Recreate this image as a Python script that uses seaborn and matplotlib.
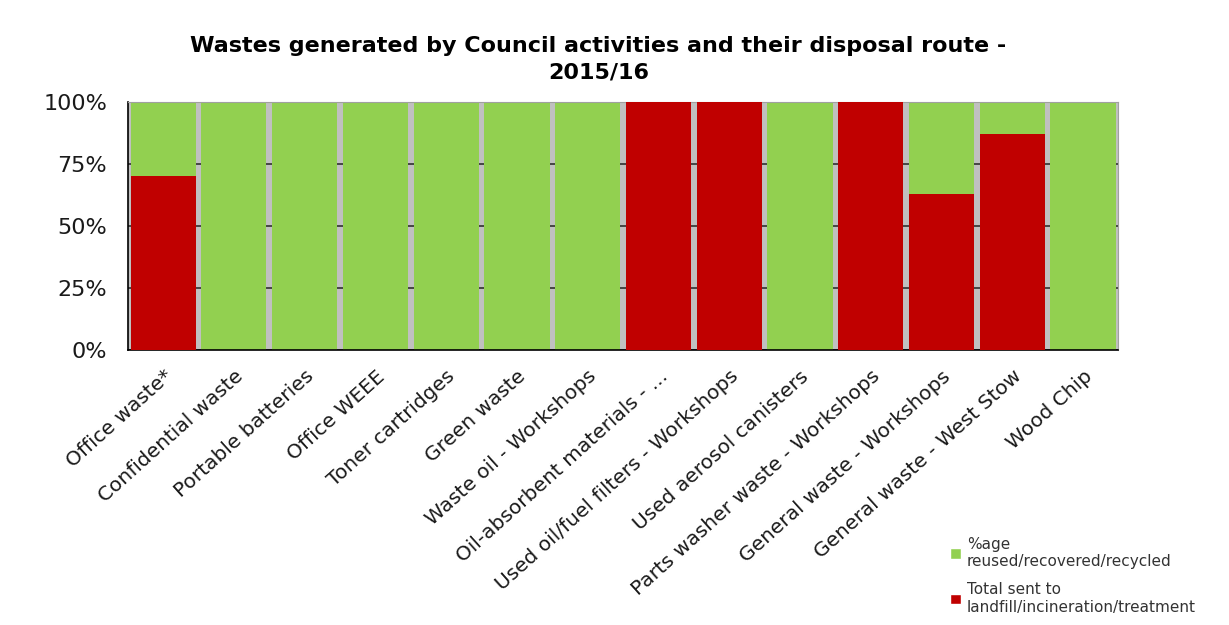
import numpy as np
import pandas as pd
import matplotlib
matplotlib.use("Agg")
import matplotlib.pyplot as plt
import seaborn as sns
from matplotlib.patches import Patch
from matplotlib.ticker import PercentFormatter

categories = [
    "Office waste*",
    "Confidential waste",
    "Portable batteries",
    "Office WEEE",
    "Toner cartridges",
    "Green waste",
    "Waste oil - Workshops",
    "Oil-absorbent materials - ...",
    "Used oil/fuel filters - Workshops",
    "Used aerosol canisters",
    "Parts washer waste - Workshops",
    "General waste - Workshops",
    "General waste - West Stow",
    "Wood Chip",
]
reused = [30, 100, 100, 100, 100, 100, 100, 0, 0, 100, 0, 37, 13, 100]
landfill = [70, 0, 0, 0, 0, 0, 0, 100, 100, 0, 100, 63, 87, 0]

green = "#92D050"
red = "#C00000"

df = pd.DataFrame({"cat": categories, "reused": reused, "landfill": landfill})
df["total"] = df["reused"] + df["landfill"]

sns.set_style("white")
fig = plt.figure(figsize=(12.29, 6.25), dpi=100)
ax = fig.add_axes([0.104, 0.44, 0.806, 0.397])

# green stacked on top of red: draw the full stack first, then red in front
sns.barplot(data=df, x="cat", y="total", color=green, saturation=1,
            width=0.92, linewidth=0, edgecolor="none", ax=ax, zorder=2)
sns.barplot(data=df, x="cat", y="landfill", color=red, saturation=1,
            width=0.92, linewidth=0, edgecolor="none", ax=ax, zorder=3)

ax.set_facecolor("#C0C0C0")
ax.set_xlim(-0.5, len(categories) - 0.5)
ax.set_ylim(0, 100)
ax.set_yticks([0, 25, 50, 75, 100])
ax.yaxis.set_major_formatter(PercentFormatter(decimals=0))
ax.grid(axis="y", color="#303030", linewidth=1.2, zorder=1)
ax.set_axisbelow(True)
ax.set_xlabel("")
ax.set_ylabel("")

for side in ["top", "right"]:
    ax.spines[side].set_color("#A0A0A0")
for side in ["left", "bottom"]:
    ax.spines[side].set_color("black")
    ax.spines[side].set_linewidth(1.2)

ax.set_xticks(np.arange(len(categories)))
ax.set_xticklabels(categories, rotation=42, ha="right", rotation_mode="anchor",
                   fontsize=14.5, color="#1a1a1a")
ax.tick_params(axis="x", which="major", length=0, pad=12)
ax.set_xticks(np.arange(-0.5, len(categories)), minor=True)
ax.tick_params(axis="x", which="minor", length=7, direction="out", color="black")
ax.tick_params(axis="y", labelsize=16, length=7, direction="out", color="black",
               labelcolor="#1a1a1a", pad=8)

fig.suptitle("Wastes generated by Council activities and their disposal route -\n2015/16",
             x=0.487, y=0.943, fontsize=16, fontweight="bold", linespacing=1.45,
             color="black")

handles = [
    Patch(facecolor=green, label="%age\nreused/recovered/recycled"),
    Patch(facecolor=red, label="Total sent to\nlandfill/incineration/treatment"),
]
fig.legend(handles=handles, loc="upper left", bbox_to_anchor=(0.762, 0.163),
           frameon=False, fontsize=11, handlelength=0.7, handleheight=0.7,
           handletextpad=0.4, labelspacing=0.85, labelcolor="#333333")

fig.savefig("out.png", dpi=100)
